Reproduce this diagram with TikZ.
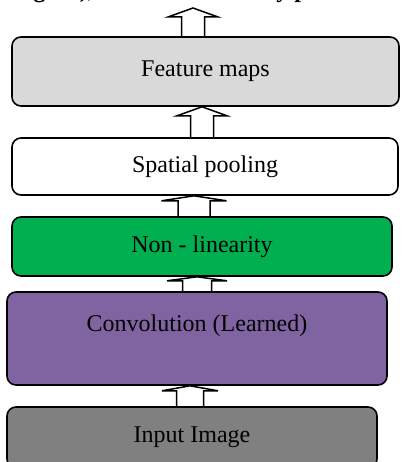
\documentclass[tikz,border=0pt]{standalone}
\usepackage{fontspec}
\setmainfont{Liberation Serif}
\usetikzlibrary{calc}

\definecolor{mapgray}{HTML}{D9D9D9}
\definecolor{nlgreen}{HTML}{00B050}
\definecolor{convpurple}{HTML}{8064A2}
\definecolor{ingray}{HTML}{808080}

\pgfdeclarelayer{background}
\pgfsetlayers{background,main}

% hollow block arrow from the top of #1 up to #2
% #3 = centre x, #4 = shaft half width, #5 = head half width, #6 = head height
\newcommand{\blockup}[6]{%
  \draw[blockarrow] let \p1=(#1.north), \p2=(#2) in
    (#3pt-#4pt,\y1-3pt) -- (#3pt-#4pt,\y2-#6pt) -- (#3pt-#5pt,\y2-#6pt)
    -- (#3pt,\y2) -- (#3pt+#5pt,\y2-#6pt) -- (#3pt+#4pt,\y2-#6pt)
    -- (#3pt+#4pt,\y1-3pt) -- cycle;}

\begin{document}
\begin{tikzpicture}[x=1pt,y=1pt,
  stage/.style={draw=black, line width=1.6pt, rounded corners=9pt,
    inner sep=0pt, font=\fontsize{24}{28}\selectfont, align=center},
  blockarrow/.style={draw=black, fill=white, line width=1.5pt, line join=miter}]
\useasboundingbox (0,0) rectangle (401,-462);
\clip (0,0) rectangle (401,-462);

% caption line running above the figure
\node[anchor=base west, inner sep=0pt, font=\fontsize{24}{28}\selectfont\bfseries]
  (cap) at (12,2.0) {Figure), the dimensionality pooled};

% processing stages, top to bottom
\node[stage, fill=mapgray, minimum width=387, minimum height=69]
  (fm) at (205.5,-71.5) {Feature maps};
\node[stage, fill=white, minimum width=386, minimum height=57]
  (sp) at (205,-166.5) {Spatial pooling};
\node[stage, fill=nlgreen, minimum width=380, minimum height=59]
  (nl) at (202,-246.5) {Non - linearity};
\node[stage, fill=convpurple, minimum width=380, minimum height=93]
  (cv) at (197,-338.5) {Convolution (Learned)\\[2pt]\mbox{}};
\node[stage, fill=ingray, minimum width=370, minimum height=61]
  (in) at (192,-437.5) {Input Image};

\coordinate (out) at (193,-8);

% arrows sit behind the stages
\begin{pgfonlayer}{background}
\blockup{fm}{out}{193}{11.5}{25}{9}
\blockup{sp}{fm.south}{202}{11.5}{25}{9}
\blockup{nl}{sp.south}{194}{16}{32.5}{5}
\blockup{cv}{nl.south}{197}{14.5}{30}{4}
\blockup{in}{cv.south}{190}{13.5}{28}{5}
\end{pgfonlayer}
\end{tikzpicture}
\end{document}
